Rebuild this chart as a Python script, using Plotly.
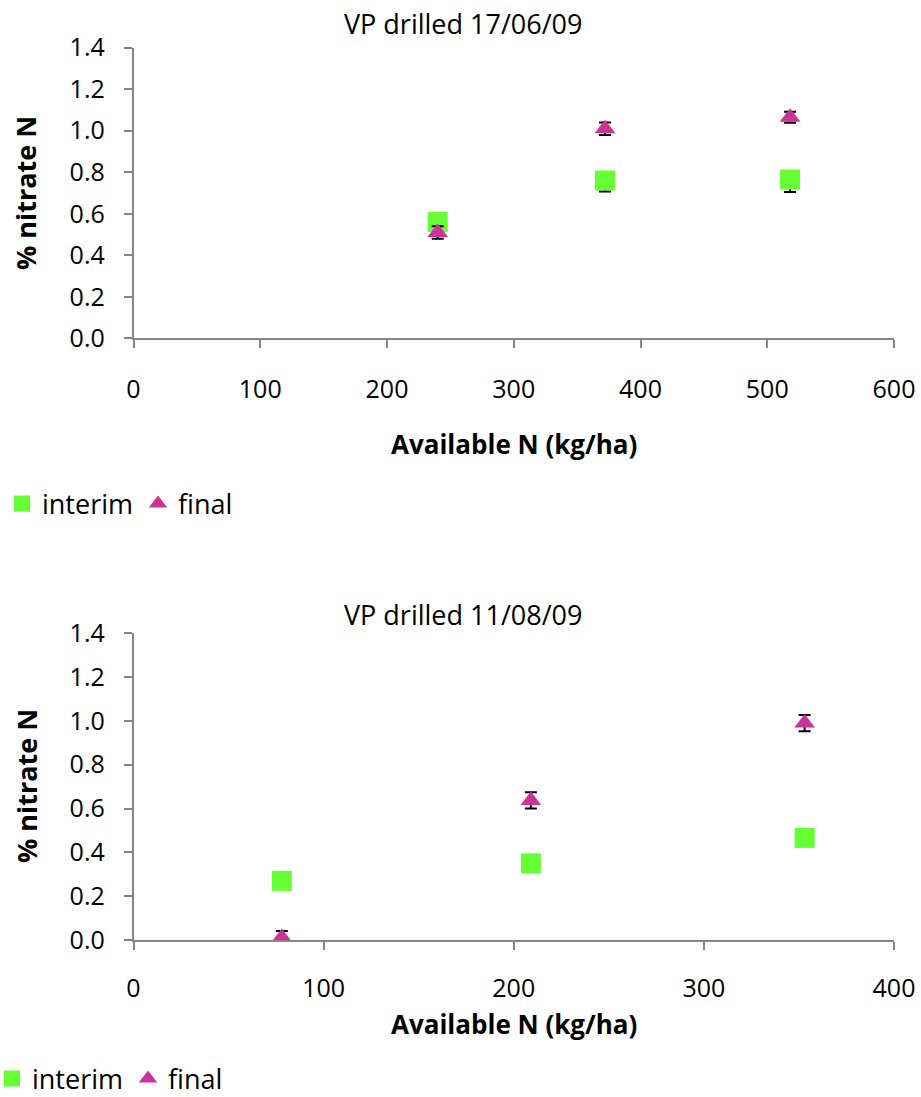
import plotly.graph_objects as go

# Sowing 17/06/09
n_early = [240, 372, 518]
interim_early = [0.56, 0.76, 0.765]
interim_early_plus = [0.04, 0.04, 0.04]
interim_early_minus = [0.05, 0.053, 0.06]
final_early = [0.51, 1.01, 1.065]
final_early_err = [0.03, 0.03, 0.027]

# Sowing 11/08/09
n_late = [78, 209, 353]
interim_late = [0.27, 0.35, 0.466]
interim_late_err = [0.02, 0.02, 0.02]
final_late = [0.011, 0.637, 0.99]
final_late_err = [0.03, 0.037, 0.037]

y_ticks = [0.0, 0.2, 0.4, 0.6, 0.8, 1.0, 1.2, 1.4]

GREEN = "#66FF33"
MAGENTA = "#CC3399"
AXIS = "#868686"
FONT = "Open Sans"

W, H = 921, 1097


def px_x(p):
    return p / W


def px_y(p):
    return 1 - p / H


fig = go.Figure()


def add_series(x, y, plus, minus, name, symbol, color, size, xa, ya, legend):
    fig.add_trace(go.Scatter(
        x=x, y=y, mode="markers", name=name,
        marker=dict(symbol=symbol, color=color, size=size, line=dict(width=0)),
        error_y=dict(type="data", array=plus, arrayminus=minus, symmetric=False,
                     visible=True, color="black", thickness=2, width=6),
        xaxis=xa, yaxis=ya, legend=legend, cliponaxis=False,
    ))


add_series(n_early, interim_early, interim_early_plus, interim_early_minus,
           "interim", "square", GREEN, 20, "x", "y", "legend")
add_series(n_early, final_early, final_early_err, final_early_err,
           "final", "triangle-up", MAGENTA, 18, "x", "y", "legend")
add_series(n_late, interim_late, interim_late_err, interim_late_err,
           "interim", "square", GREEN, 20, "x2", "y2", "legend2")
add_series(n_late, final_late, final_late_err, final_late_err,
           "final", "triangle-up", MAGENTA, 18, "x2", "y2", "legend2")

x_dom = [px_x(133.5), px_x(894)]
axis_common = dict(
    showgrid=False, zeroline=False, showline=True, linecolor=AXIS, linewidth=1.5,
    ticks="outside", tickcolor=AXIS, tickwidth=1.5, ticklen=8, automargin=False,
    tickfont=dict(family=FONT, size=25, color="black"),
)

legend_font = dict(family=FONT, size=27, color="black")

fig.update_layout(
    width=W, height=H,
    margin=dict(l=0, r=0, t=0, b=0, autoexpand=False),
    paper_bgcolor="white", plot_bgcolor="white",
    font=dict(family=FONT, color="black"),
    showlegend=True,
    xaxis=dict(domain=x_dom, range=[0, 600], dtick=100, anchor="y",
               ticklabelstandoff=20, **axis_common),
    yaxis=dict(domain=[px_y(338.3), px_y(47.7)], range=[0, 1.4],
               tickvals=y_ticks, tickformat=".1f", anchor="x",
               ticklabelstandoff=14, **axis_common),
    xaxis2=dict(domain=x_dom, range=[0, 400], dtick=100, anchor="y2",
                ticklabelstandoff=17, **axis_common),
    yaxis2=dict(domain=[px_y(940), px_y(633.3)], range=[0, 1.4],
                tickvals=y_ticks, tickformat=".1f", anchor="x2",
                ticklabelstandoff=14, **axis_common),
    legend=dict(orientation="h", x=px_x(2), y=px_y(504), xanchor="left", yanchor="middle",
                font=legend_font, bgcolor="rgba(0,0,0,0)", itemwidth=30, tracegroupgap=0),
    legend2=dict(orientation="h", x=px_x(-8), y=px_y(1079), xanchor="left", yanchor="middle",
                 font=legend_font, bgcolor="rgba(0,0,0,0)", itemwidth=30, tracegroupgap=0),
)

titles = [
    ("VP drilled 17/06/09", 463, 24, False, 0),
    ("VP drilled 11/08/09", 463, 614, False, 0),
    ("Available N (kg/ha)", 514, 444, True, 0),
    ("Available N (kg/ha)", 514, 1024, True, 0),
    ("% nitrate N", 26, 193, True, -90),
    ("% nitrate N", 26, 786, True, -90),
]
for text, cx, cy, bold, angle in titles:
    fig.add_annotation(
        text=f"<b>{text}</b>" if bold else text,
        x=px_x(cx), y=px_y(cy), xref="paper", yref="paper",
        xanchor="center", yanchor="middle", showarrow=False, textangle=angle,
        font=dict(family=FONT, size=27 if not bold or angle else 26, color="black"),
    )

fig.write_html("out.html")
